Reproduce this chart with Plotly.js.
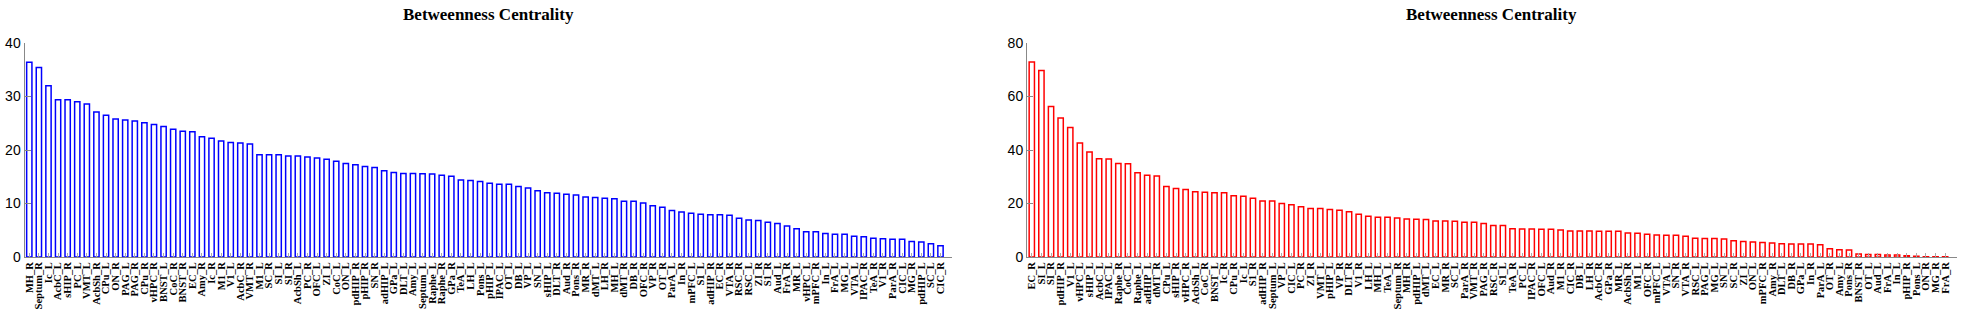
<!DOCTYPE html>
<html>
<head>
<meta charset="utf-8">
<script src="https://cdn.plot.ly/plotly-3.0.1.min.js"></script>
<style>html,body{margin:0;padding:0;background:#fff;}#chart{width:1964px;height:313px;}</style>
</head>
<body>
<div id="chart"></div>
<script>
const labelsLeft = ["MH_R","Septum_R","Ic_L","AcbC_L","sHIP_R","PC_L","VMT_L","AcbSh_R","CPu_L","ON_R",
"PAG_L","PAG_R","CPu_R","vHPC_R","BNST_L","CoC_R","BNST_R","EC_L","Amy_R","Ic_R",
"M1_R","V1_L","AcbC_R","VMT_R","M1_L","SC_R","SI_L","SI_R","AcbSh_L","PC_R",
"OFC_L","ZI_L","CoC_L","ON_L","pdHIP_R","pHIP_R","SN_R","adHIP_L","GPa_L","DLT_L",
"Amy_L","Septum_L","Raphe_L","Raphe_R","GPa_R","TeA_L","LH_L","Pons_L","pHIP_L","IPAC_L",
"OT_L","DB_L","VP_L","SN_L","sHIP_L","DLT_R","Aud_R","Pons_R","MR_R","dMT_L",
"LH_R","MH_L","dMT_R","DB_R","OFC_R","VP_R","OT_R","ParA_L","In_R","mPFC_L",
"S1_L","adHIP_R","EC_R","VTA_R","RSC_R","RSC_L","ZI_R","S1_R","Aud_L","FrA_R",
"MR_L","vHPC_L","mPFC_R","In_L","FrA_L","MG_L","VTA_L","IPAC_R","TeA_R","V1_R",
"ParA_R","CIC_L","MG_R","pdHIP_L","SC_L","CIC_R"];
const valuesLeft = [36.4,35.4,32.0,29.4,29.4,29.0,28.6,27.1,26.5,25.8,
25.6,25.4,25.1,24.75,24.4,23.9,23.5,23.4,22.5,22.2,
21.7,21.4,21.3,21.1,19.1,19.1,19.1,18.9,18.9,18.7,
18.5,18.25,17.9,17.5,17.25,16.9,16.75,16.1,15.8,15.6,
15.6,15.55,15.5,15.3,15.1,14.4,14.3,14.1,13.8,13.6,
13.6,13.2,12.9,12.4,12.0,11.9,11.75,11.6,11.2,11.1,
11.0,10.9,10.4,10.4,10.1,9.6,9.3,8.7,8.4,8.2,
8.0,7.9,7.9,7.8,7.25,6.9,6.8,6.5,6.25,5.8,
5.3,4.7,4.7,4.4,4.25,4.25,3.9,3.8,3.5,3.4,
3.3,3.3,2.9,2.8,2.5,2.1];

const labelsRight = ["EC_R","SI_L","SI_R","pdHIP_R","V1_L","vHPC_L","sHIP_L","AcbC_L","IPAC_L","Raphe_R",
"CoC_L","Raphe_L","adHIP_L","dMT_R","CPu_L","sHIP_R","vHPC_R","AcbSh_L","CoC_R","BNST_L",
"Ic_R","CPu_R","Ic_L","S1_R","adHIP_R","Septum_L","VP_L","CIC_L","PC_R","ZI_R",
"VMT_L","pHIP_L","VP_R","DLT_R","V1_R","LH_L","MH_L","TeA_L","Septum_R","MH_R",
"pdHIP_L","dMT_L","EC_L","MR_R","SC_L","ParA_R","VMT_R","PAG_R","RSC_R","S1_L",
"TeA_R","PC_L","IPAC_R","OFC_L","Aud_R","M1_R","CIC_R","DB_L","LH_R","AcbC_R",
"GPa_R","MR_L","AcbSh_R","M1_L","OFC_R","mPFC_L","VTA_L","SN_R","VTA_R","RSC_L",
"PAG_L","MG_L","SN_L","SC_R","ZI_L","ON_L","mPFC_R","Amy_R","DLT_L","DB_R",
"GPa_L","In_R","ParA_L","OT_R","Amy_L","Pons_R","BNST_R","OT_L","Aud_L","FrA_L",
"In_L","pHIP_R","Pons_L","ON_R","MG_R","FrA_R"];
const valuesRight = [72.9,69.75,56.25,52.0,48.4,42.6,39.25,36.75,36.6,35.0,
34.9,31.5,30.6,30.25,26.4,25.6,25.25,24.4,24.25,24.0,
24.0,22.9,22.75,22.0,20.9,20.9,20.0,19.5,18.75,18.1,
18.1,17.75,17.5,16.9,16.0,15.25,14.9,14.9,14.6,14.25,
14.1,14.0,13.5,13.5,13.4,13.0,13.0,12.5,11.75,11.75,
10.6,10.5,10.5,10.4,10.4,10.1,9.75,9.75,9.75,9.6,
9.6,9.6,9.0,8.9,8.5,8.25,8.1,8.1,7.75,7.0,
6.9,6.9,6.75,6.1,5.75,5.6,5.4,5.25,5.0,4.9,
4.9,4.9,4.6,3.1,2.75,2.6,1.1,0.9,0.9,0.75,
0.75,0.5,0.25,0.1,0.1,0.1];

const titleText = "Betweenness Centrality";
const leftTicks = [0,10,20,30,40];
const rightTicks = [0,20,40,60,80];

const W = 1964;
const serifBold = {family: "Liberation Serif, Times New Roman, serif", size: 10.5, color: "#000", weight: "bold"};
const sans = {family: "Liberation Sans, Arial, sans-serif", size: 14, color: "#000"};

function xax(domain, labels) {
  return {
    domain: domain, type: "category", range: [-0.5, labels.length + 0.2],
    tickmode: "array", tickvals: labels, ticktext: labels,
    showline: true, linecolor: "#888", linewidth: 1, mirror: false,
    ticks: "inside", ticklen: 4, tickcolor: "#aaa", tickwidth: 1,
    tickangle: -90, tickfont: serifBold, showgrid: false, zeroline: false,
    automargin: false
  };
}
function yax(anchor, range, ticks) {
  return {
    anchor: anchor, domain: [0, 1], range: range, tickvals: ticks,
    showline: true, linecolor: "#888", linewidth: 1,
    ticks: "inside", ticklen: 6, tickcolor: "#888", tickwidth: 1,
    tickfont: sans, showgrid: false, zeroline: false, automargin: false
  };
}

const traces = [
  {type: "bar", x: labelsLeft, y: valuesLeft, xaxis: "x", yaxis: "y", width: 0.55,
   marker: {color: "#ffffff", line: {color: "#0000ff", width: 1.5}}, hoverinfo: "x+y"},
  {type: "bar", x: labelsRight, y: valuesRight, xaxis: "x2", yaxis: "y2", width: 0.55,
   marker: {color: "#ffffff", line: {color: "#ff0000", width: 1.5}}, hoverinfo: "x+y"}
];

const dL = [24.5 / W, 952 / W];
const dR = [1027 / W, 1956.7 / W];
const titleFont = {family: "Liberation Serif, Times New Roman, serif", size: 17, color: "#000", weight: "bold"};

const layout = {
  width: 1964, height: 313,
  margin: {l: 0, r: 0, t: 43, b: 56, pad: 0},
  paper_bgcolor: "#fff", plot_bgcolor: "#fff",
  showlegend: false,
  xaxis: xax(dL, labelsLeft),
  yaxis: yax("x", [0, 40], leftTicks),
  xaxis2: xax(dR, labelsRight),
  yaxis2: yax("x2", [0, 80], rightTicks),
  annotations: [
    {text: titleText, xref: "paper", yref: "paper", x: (dL[0] + dL[1]) / 2, y: 1,
     xanchor: "center", yanchor: "middle", yshift: 29, showarrow: false, font: titleFont},
    {text: titleText, xref: "paper", yref: "paper", x: (dR[0] + dR[1]) / 2, y: 1,
     xanchor: "center", yanchor: "middle", yshift: 29, showarrow: false, font: titleFont}
  ]
};
layout.xaxis.anchor = "y";
layout.xaxis2.anchor = "y2";

Plotly.newPlot("chart", traces, layout, {displayModeBar: false, staticPlot: true});
</script>
</body>
</html>
